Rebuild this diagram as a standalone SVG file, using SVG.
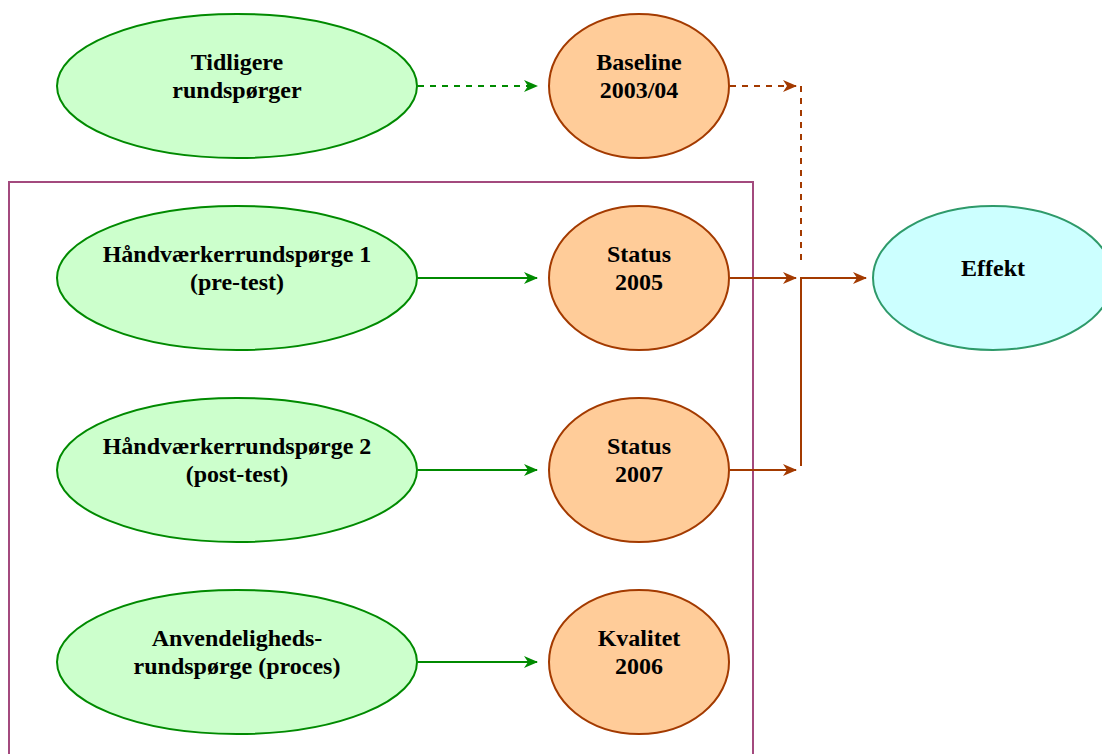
<svg xmlns="http://www.w3.org/2000/svg" width="1102" height="754" viewBox="0 0 1102 754">
<style>
text{font-family:"Liberation Serif","Times New Roman",serif;font-weight:bold;font-size:24px;text-anchor:middle;fill:#000}
.g{fill:#ccffcc;stroke:#008a00;stroke-width:2}
.o{fill:#ffcc99;stroke:#a33a00;stroke-width:2}
.c{fill:#ccffff;stroke:#2e9a6a;stroke-width:2}
.ga{stroke:#008a00;stroke-width:2;fill:none}
.oa{stroke:#a33a00;stroke-width:2;fill:none}
.d{stroke-dasharray:6,6}
</style>
<defs>
<marker id="mg" markerWidth="14" markerHeight="12" refX="13" refY="6" orient="auto" markerUnits="userSpaceOnUse"><path d="M0,0 L14,6 L0,12 L4,6 Z" fill="#008a00"/></marker>
<marker id="mo" markerWidth="14" markerHeight="12" refX="13" refY="6" orient="auto" markerUnits="userSpaceOnUse"><path d="M0,0 L14,6 L0,12 L4,6 Z" fill="#a33a00"/></marker>
</defs>
<rect x="9" y="182" width="744" height="600" fill="none" stroke="#a34a7e" stroke-width="2"/>
<g id="connectors">
<path class="ga d" d="M418,86 H537" marker-end="url(#mg)"/>
<path class="ga" d="M418,278 H537" marker-end="url(#mg)"/>
<path class="ga" d="M418,470 H537" marker-end="url(#mg)"/>
<path class="ga" d="M418,662 H537" marker-end="url(#mg)"/>
<path class="oa d" d="M730,86 H796" marker-end="url(#mo)"/>
<path class="oa d" d="M801,86 V262"/>
<path class="oa" d="M730,278 H796" marker-end="url(#mo)"/>
<path class="oa" d="M730,470 H796" marker-end="url(#mo)"/>
<path class="oa" d="M801,466 V278 H866" marker-end="url(#mo)"/>
</g>
<g id="n1"><ellipse class="g" cx="237" cy="86" rx="180" ry="72"/><text x="237" y="70">Tidligere</text><text x="237" y="98">rundspørger</text></g>
<g id="n2"><ellipse class="g" cx="237" cy="278" rx="180" ry="72"/><text x="237" y="262">Håndværkerrundspørge 1</text><text x="237" y="290">(pre-test)</text></g>
<g id="n3"><ellipse class="g" cx="237" cy="470" rx="180" ry="72"/><text x="237" y="454">Håndværkerrundspørge 2</text><text x="237" y="482">(post-test)</text></g>
<g id="n4"><ellipse class="g" cx="237" cy="662" rx="180" ry="72"/><text x="237" y="646">Anvendeligheds-</text><text x="237" y="674">rundspørge (proces)</text></g>
<g id="b1"><ellipse class="o" cx="639" cy="86" rx="90" ry="72"/><text x="639" y="70">Baseline</text><text x="639" y="98">2003/04</text></g>
<g id="b2"><ellipse class="o" cx="639" cy="278" rx="90" ry="72"/><text x="639" y="262">Status</text><text x="639" y="290">2005</text></g>
<g id="b3"><ellipse class="o" cx="639" cy="470" rx="90" ry="72"/><text x="639" y="454">Status</text><text x="639" y="482">2007</text></g>
<g id="b4"><ellipse class="o" cx="639" cy="662" rx="90" ry="72"/><text x="639" y="646">Kvalitet</text><text x="639" y="674">2006</text></g>
<g id="effekt"><ellipse class="c" cx="993" cy="278" rx="120" ry="72"/><text x="993" y="276">Effekt</text></g>
</svg>
